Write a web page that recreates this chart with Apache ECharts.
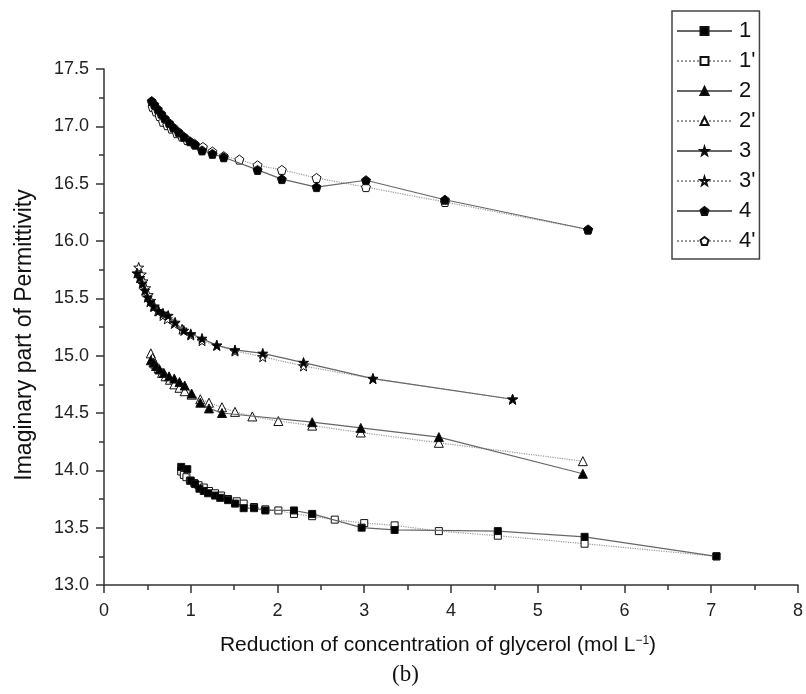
<!DOCTYPE html>
<html>
<head>
<meta charset="utf-8">
<script src="https://cdn.jsdelivr.net/npm/echarts@6/dist/echarts.min.js"></script>
<style>
html, body { margin: 0; padding: 0; background: #fff; }
#chart { width: 806px; height: 694px; }
</style>
</head>
<body>
<div id="chart"></div>
<script>
// series values
var x1 = [0.89, 0.96, 1.00, 1.05, 1.10, 1.15, 1.20, 1.28, 1.34, 1.43, 1.51, 1.61, 1.73, 1.86, 2.19, 2.40, 2.97, 3.35, 4.54, 5.54, 7.06];
var y1 = [14.03, 14.01, 13.91, 13.88, 13.84, 13.82, 13.80, 13.78, 13.76, 13.74, 13.71, 13.67, 13.67, 13.65, 13.65, 13.62, 13.50, 13.48, 13.47, 13.42, 13.25];
var x1p = [0.89, 0.92, 0.95, 0.99, 1.04, 1.09, 1.15, 1.21, 1.28, 1.35, 1.43, 1.53, 1.61, 1.73, 1.86, 2.01, 2.19, 2.40, 2.66, 3.00, 3.35, 3.86, 4.54, 5.54, 7.06];
var y1p = [13.99, 13.96, 13.94, 13.91, 13.89, 13.87, 13.85, 13.82, 13.80, 13.78, 13.75, 13.73, 13.71, 13.68, 13.66, 13.65, 13.62, 13.60, 13.57, 13.54, 13.52, 13.47, 13.43, 13.36, 13.25];
var x2 = [0.54, 0.57, 0.60, 0.64, 0.69, 0.75, 0.81, 0.87, 0.93, 1.01, 1.11, 1.21, 1.36, 2.40, 2.96, 3.86, 5.52];
var y2 = [14.96, 14.94, 14.91, 14.88, 14.85, 14.82, 14.80, 14.77, 14.74, 14.67, 14.59, 14.54, 14.50, 14.42, 14.37, 14.29, 13.97];
var x2p = [0.54, 0.56, 0.59, 0.63, 0.67, 0.71, 0.76, 0.81, 0.87, 0.93, 1.01, 1.11, 1.21, 1.36, 1.51, 1.71, 2.01, 2.40, 2.96, 3.86, 5.52];
var y2p = [15.02, 14.98, 14.93, 14.89, 14.85, 14.82, 14.79, 14.75, 14.72, 14.69, 14.66, 14.62, 14.59, 14.55, 14.51, 14.47, 14.43, 14.39, 14.33, 14.24, 14.08];
var x3 = [0.38, 0.41, 0.44, 0.47, 0.50, 0.53, 0.57, 0.63, 0.68, 0.74, 0.82, 0.92, 1.00, 1.13, 1.30, 1.51, 1.83, 2.30, 3.10, 4.71];
var y3 = [15.72, 15.68, 15.63, 15.57, 15.51, 15.47, 15.43, 15.39, 15.37, 15.35, 15.29, 15.22, 15.19, 15.15, 15.09, 15.05, 15.02, 14.94, 14.80, 14.62];
var x3p = [0.40, 0.43, 0.45, 0.48, 0.51, 0.54, 0.58, 0.62, 0.68, 0.73, 0.81, 0.90, 1.00, 1.13, 1.30, 1.51, 1.83, 2.30, 3.10, 4.71];
var y3p = [15.77, 15.71, 15.65, 15.59, 15.53, 15.48, 15.43, 15.39, 15.35, 15.32, 15.28, 15.23, 15.18, 15.13, 15.09, 15.04, 14.99, 14.91, 14.80, 14.62];
var x4 = [0.55, 0.58, 0.62, 0.66, 0.70, 0.75, 0.80, 0.86, 0.92, 0.99, 1.05, 1.13, 1.25, 1.38, 1.77, 2.05, 2.45, 3.02, 3.93, 5.58];
var y4 = [17.22, 17.19, 17.15, 17.11, 17.07, 17.03, 16.99, 16.95, 16.91, 16.87, 16.84, 16.79, 16.76, 16.73, 16.62, 16.54, 16.47, 16.53, 16.36, 16.10];
var x4p = [0.56, 0.60, 0.64, 0.68, 0.73, 0.78, 0.84, 0.90, 0.96, 1.04, 1.14, 1.25, 1.38, 1.56, 1.77, 2.05, 2.45, 3.02, 3.93, 5.58];
var y4p = [17.17, 17.13, 17.09, 17.04, 17.01, 16.98, 16.94, 16.91, 16.88, 16.85, 16.82, 16.78, 16.74, 16.71, 16.66, 16.62, 16.55, 16.47, 16.34, 16.10];

var seriesNames = ["1", "1'", "2", "2'", "3", "3'", "4", "4'"];
var xTicks = [0, 1, 2, 3, 4, 5, 6, 7, 8];

var STAR = 'path://M0,-1 L0.235,-0.324 L0.951,-0.309 L0.38,0.124 L0.588,0.809 L0,0.4 L-0.588,0.809 L-0.38,0.124 L-0.951,-0.309 L-0.235,-0.324 Z';
var PENT = 'path://M0,-1 L0.951,-0.309 L0.588,0.809 L-0.588,0.809 L-0.951,-0.309 Z';
var FONT = 'Liberation Sans';

function zip(xs, ys){
    let out = [];
    for(let i = 0, len = xs.length; i < len; i++){
        out.push([xs[i], ys[i]]);
    }
    return out;
}

function makeSeries(name, xs, ys, symbol, size, filled){
    return {
        name: name,
        type: 'line',
        data: zip(xs, ys),
        symbol: symbol,
        symbolSize: size,
        showAllSymbol: true,
        z: filled ? 3 : 2,
        itemStyle: {
            color: filled ? '#000' : '#fff',
            borderColor: '#111',
            borderWidth: 1
        },
        lineStyle: {
            color: filled ? '#666' : '#999',
            width: 1.2,
            type: filled ? 'solid' : 'dotted'
        },
        emphasis: { disabled: true }
    };
}

var series = [
    makeSeries(seriesNames[0], x1, y1, 'rect', 7, true),
    makeSeries(seriesNames[1], x1p, y1p, 'rect', 7, false),
    makeSeries(seriesNames[2], x2, y2, 'triangle', 9, true),
    makeSeries(seriesNames[3], x2p, y2p, 'triangle', 9, false),
    makeSeries(seriesNames[4], x3, y3, STAR, 10, true),
    makeSeries(seriesNames[5], x3p, y3p, STAR, 10, false),
    makeSeries(seriesNames[6], x4, y4, PENT, 9, true),
    makeSeries(seriesNames[7], x4p, y4p, PENT, 9, false)
];

var option = {
    animation: false,
    backgroundColor: '#fff',
    textStyle: { fontFamily: FONT },
    grid: { left: 104, right: 7, top: 69, bottom: 109 },
    legend: {
        orient: 'vertical',
        left: 672,
        top: 11,
        data: seriesNames,
        itemWidth: 55,
        itemHeight: 10,
        itemGap: 8,
        padding: [9, 4, 7, 4],
        borderColor: '#444',
        borderWidth: 1.5,
        selectedMode: false,
        textStyle: { fontFamily: FONT, fontSize: 22, color: '#111', lineHeight: 21, padding: [0, 0, 0, 2] }
    },
    xAxis: {
        type: 'value',
        min: 0,
        max: 8,
        interval: 1,
        name: 'Reduction of concentration of glycerol (mol L{sup|\u22121})',
        nameLocation: 'middle',
        nameGap: 50,
        nameTextStyle: {
            fontFamily: FONT, fontSize: 21, color: '#111', padding: [0, 26, 0, 0],
            rich: { sup: { fontSize: 12, verticalAlign: 'top', padding: [0, 0, 9, 0], color: '#111' } }
        },
        axisLine: { onZero: false, lineStyle: { color: '#333', width: 1.5 } },
        axisTick: { inside: false, length: 8, lineStyle: { color: '#333', width: 1.5 } },
        minorTick: { show: true, splitNumber: 2, length: 5, lineStyle: { color: '#333', width: 1.5 } },
        axisLabel: {
            fontFamily: FONT, fontSize: 18, color: '#222', margin: 17,
            formatter: function(v){ return xTicks.indexOf(v) >= 0 ? String(v) : ''; }
        },
        splitLine: { show: false }
    },
    yAxis: {
        type: 'value',
        min: 13,
        max: 17.5,
        interval: 0.5,
        name: 'Imaginary part of Permittivity',
        nameLocation: 'middle',
        nameGap: 68,
        nameTextStyle: { fontFamily: FONT, fontSize: 23, color: '#111', padding: [0, 16, 0, 0] },
        axisLine: { onZero: false, lineStyle: { color: '#333', width: 1.5 } },
        axisTick: { inside: false, length: 8, lineStyle: { color: '#333', width: 1.5 } },
        minorTick: { show: true, splitNumber: 2, length: 5, lineStyle: { color: '#333', width: 1.5 } },
        axisLabel: {
            fontFamily: FONT, fontSize: 18, color: '#222', margin: 15,
            formatter: function(v){ return v.toFixed(1); }
        },
        splitLine: { show: false }
    },
    graphic: [{
        type: 'text',
        left: 392,
        top: 663,
        style: { text: '(b)', fontFamily: 'Liberation Serif', fontSize: 23, fill: '#111' }
    }],
    series: series
};

var myChart = echarts.init(document.getElementById('chart'));
myChart.setOption(option);
</script>
</body>
</html>
